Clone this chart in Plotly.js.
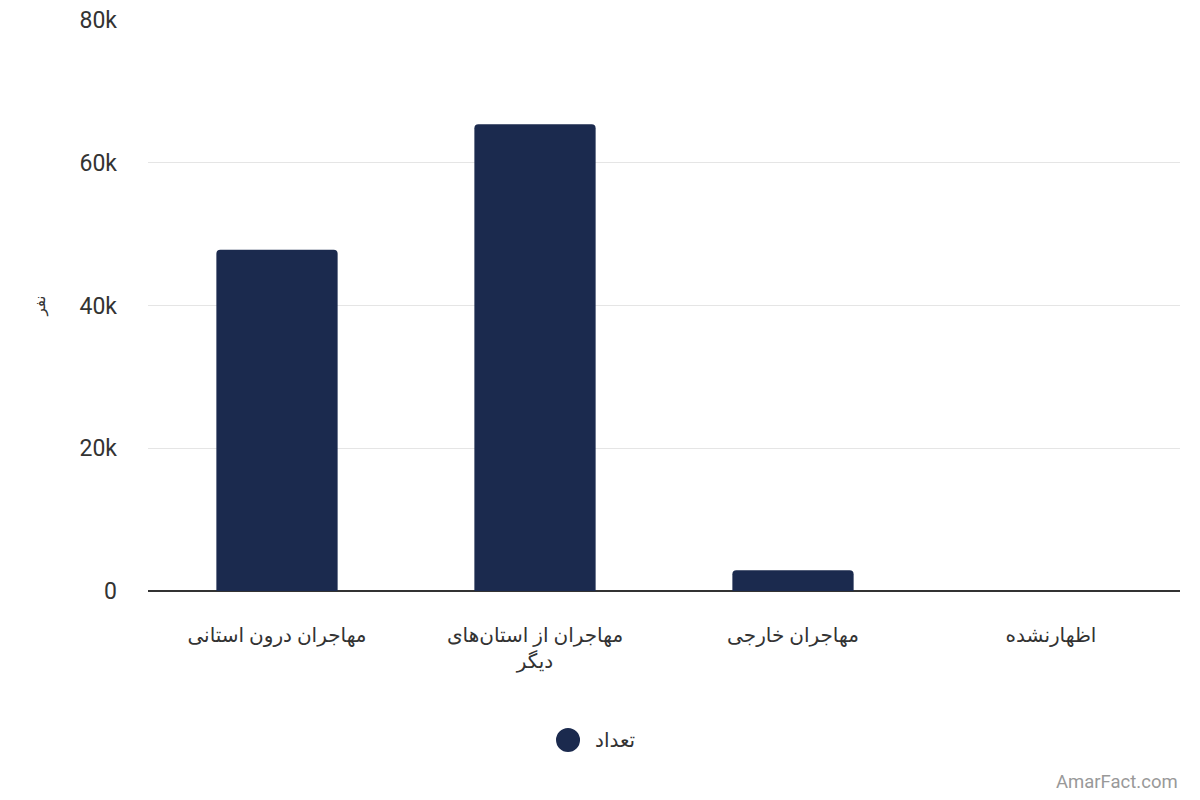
<!DOCTYPE html>
<html><head><meta charset="utf-8">
<script src="https://cdn.plot.ly/plotly-3.0.1.min.js"></script>
<style>html,body{margin:0;padding:0;background:#fff}#c{width:1200px;height:800px}</style>
</head><body><div id="c"></div>
<script>
const categories = ["مهاجران درون استانی", "مهاجران از استان‌های<br>دیگر", "مهاجران خارجی", "اظهارنشده"];
const values = [47800, 65400, 2900, 0];
const seriesName = "تعداد";
const yTickVals = [0, 20000, 40000, 60000, 80000];
const yTickText = ["0", "20k", "40k", "60k", "80k"];
const yTitle = "نفر";
const color = "#1b2a4e";
const fontFam = "Roboto, 'DejaVu Sans', sans-serif";

const traces = [
  {type: "bar", x: categories, y: values, name: seriesName, showlegend: false,
   marker: {color: color, cornerradius: 4}, hoverinfo: "x+y"}
];
const layout = {
  width: 1200, height: 800,
  margin: {l: 148, r: 20, t: 20, b: 209, autoexpand: false},
  paper_bgcolor: "#fff", plot_bgcolor: "#fff",
  font: {family: fontFam, color: "#333"},
  bargap: 0.53,
  showlegend: false,
  xaxis: {type: "category", tickfont: {size: 20, color: "#333"}, showgrid: false,
          showline: false, ticks: "", ticklabelstandoff: 30, tickangle: 0,
          automargin: false, fixedrange: true},
  yaxis: {range: [0, 80000], tickvals: yTickVals, ticktext: yTickText,
          tickfont: {size: 23, color: "#333"}, gridcolor: "#e5e5e5", gridwidth: 1,
          zeroline: true, zerolinecolor: "#333", zerolinewidth: 2,
          ticklabelstandoff: 30, showline: false, automargin: false,
          title: {text: yTitle, font: {size: 15, color: "#333"}, standoff: 30}},
  shapes: [{type: "circle", xref: "paper", yref: "paper", xsizemode: "pixel", ysizemode: "pixel",
            xanchor: 0.407, yanchor: -0.261, x0: -12, x1: 12, y0: -12, y1: 12,
            fillcolor: color, line: {width: 0}}],
  annotations: [
    {text: seriesName, xref: "paper", yref: "paper", x: 0.431, y: -0.261,
     xanchor: "left", yanchor: "middle", showarrow: false,
     font: {size: 20, color: "#333", family: fontFam}},
    {text: "AmarFact.com", xref: "paper", yref: "paper", x: 1.0, y: -0.335,
     xanchor: "right", yanchor: "middle", showarrow: false,
     font: {size: 18.5, color: "#999", family: fontFam}}]
};
Plotly.newPlot("c", traces, layout, {displayModeBar: false, staticPlot: true});
</script></body></html>
